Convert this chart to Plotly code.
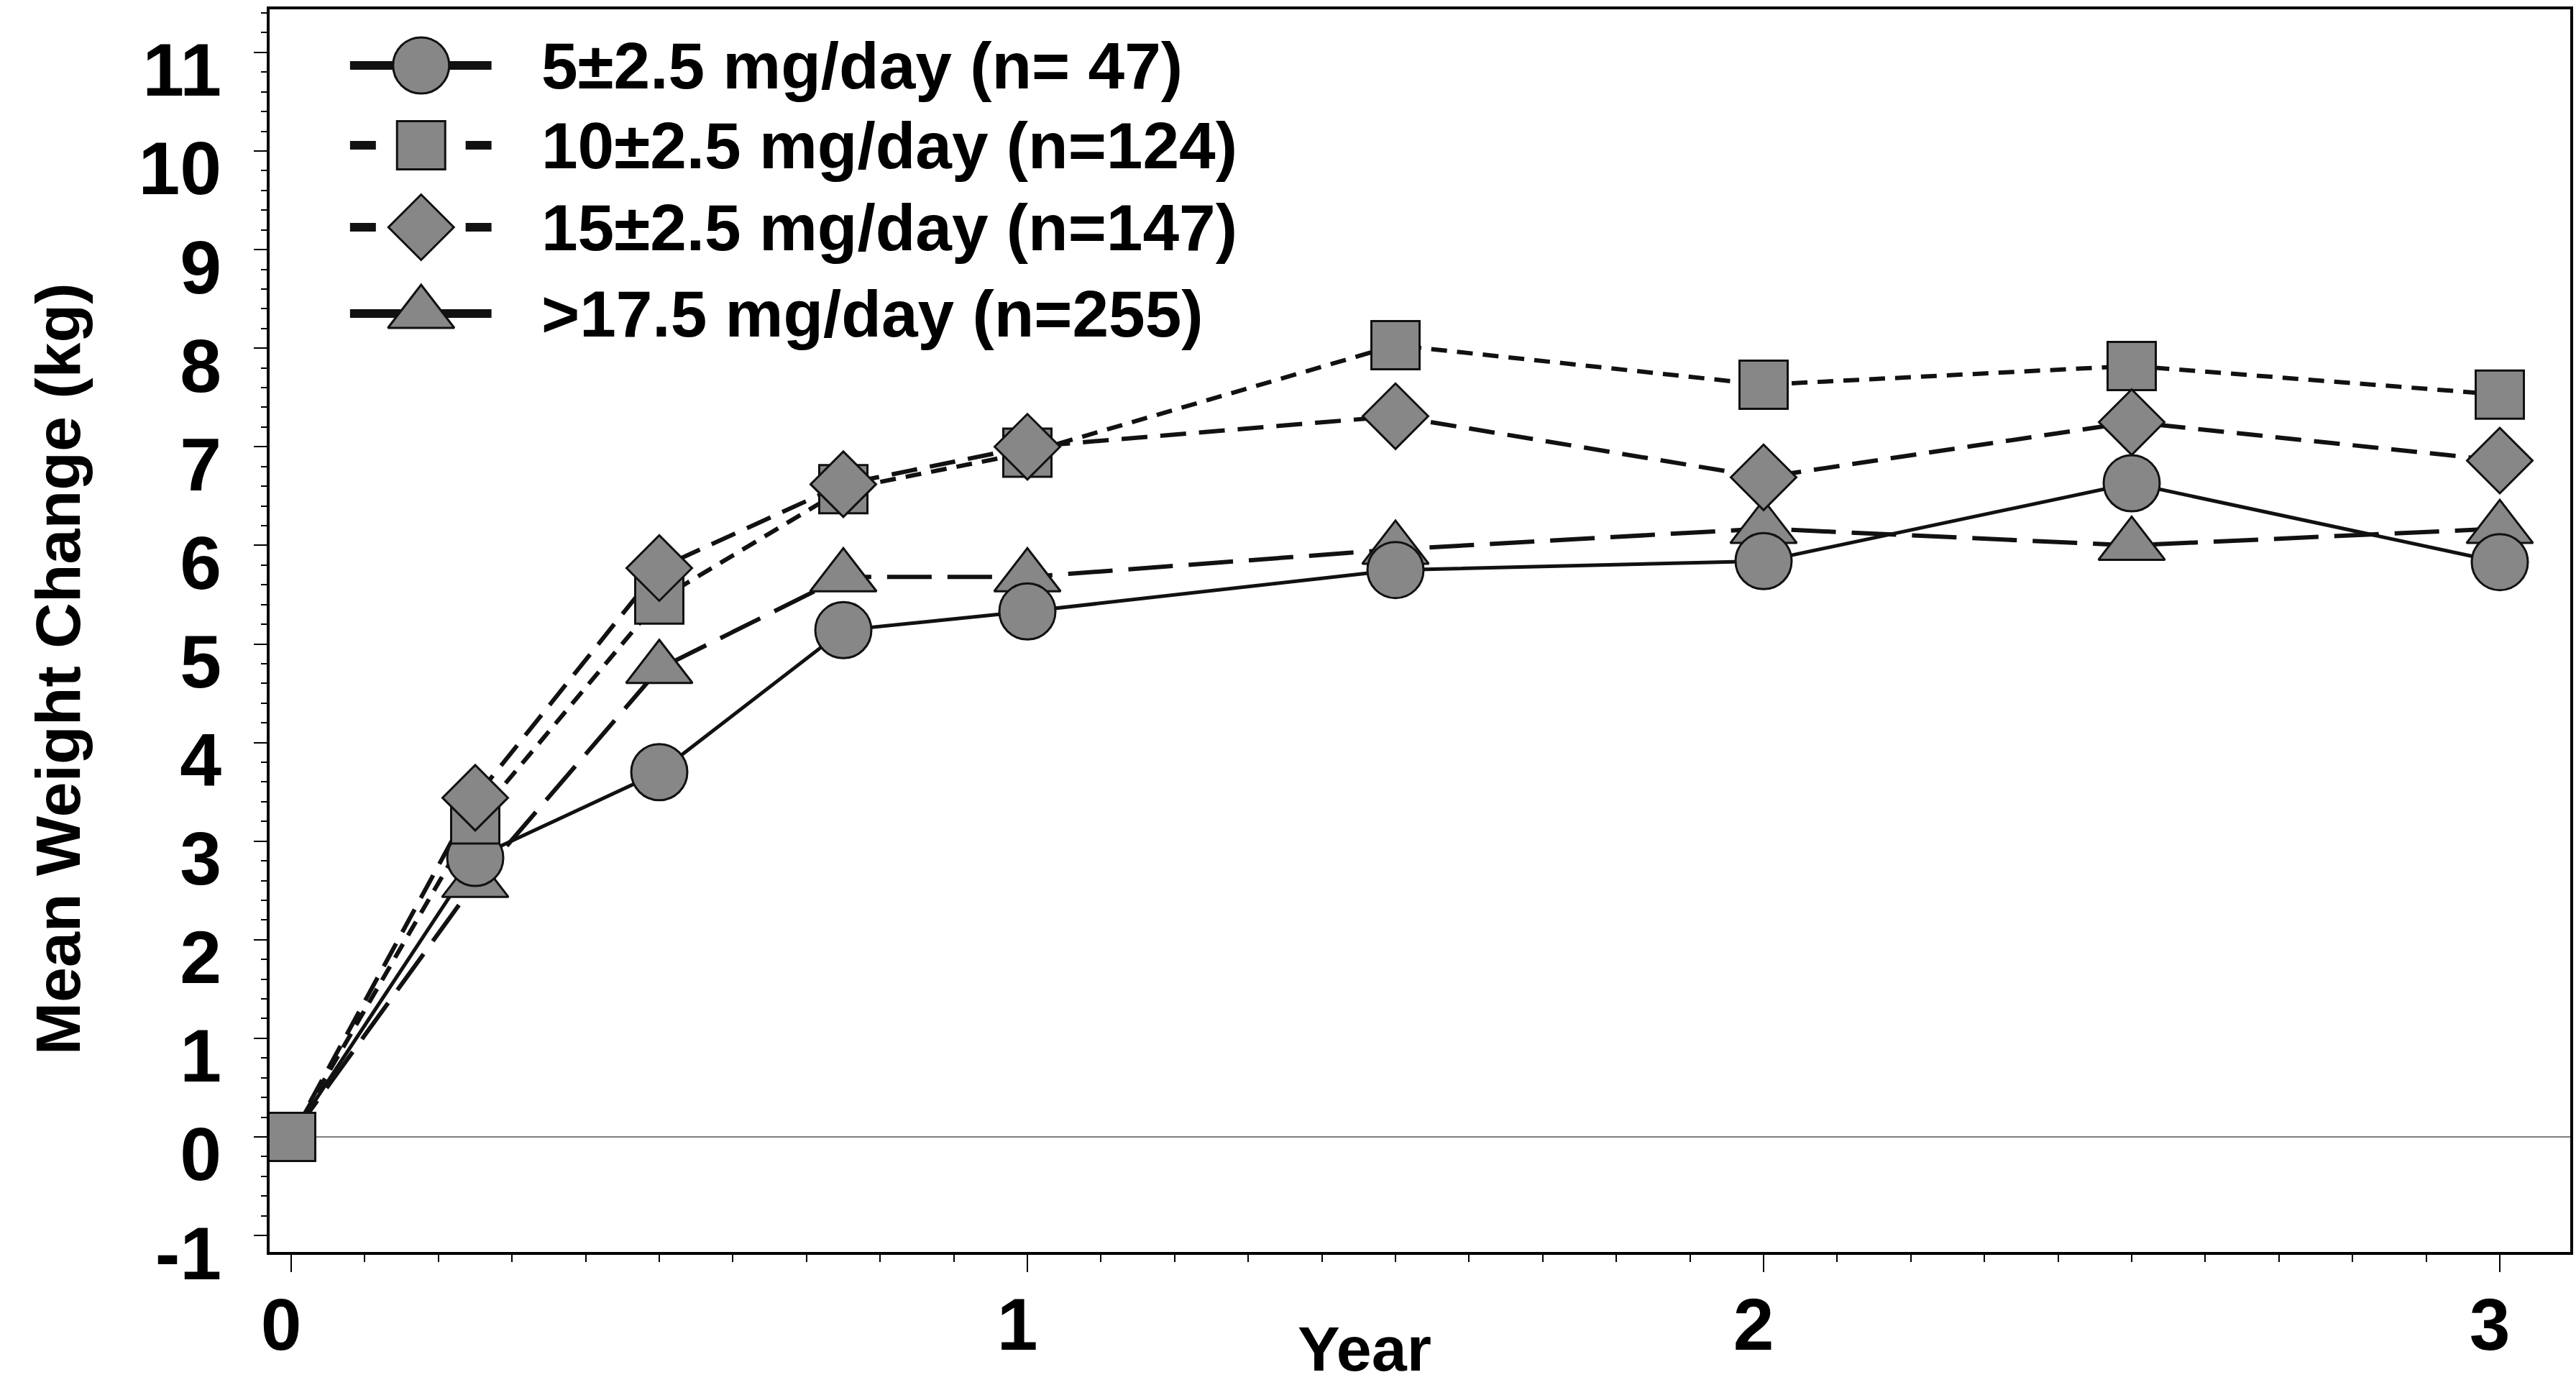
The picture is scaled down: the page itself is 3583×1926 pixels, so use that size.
import plotly.graph_objects as go

# Data (mean weight change in kg by year)
years = [0, 0.25, 0.5, 0.75, 1, 1.5, 2, 2.5, 3]

dose_5 = [0, 2.83, 3.70, 5.14, 5.33, 5.75, 5.84, 6.63, 5.83]
dose_10 = [0, 3.22, 5.45, 6.57, 6.94, 8.03, 7.63, 7.82, 7.53]
dose_15 = [0, 3.44, 5.77, 6.62, 7.00, 7.31, 6.69, 7.25, 6.86]
dose_17 = [0, 2.58, 4.75, 5.68, 5.68, 5.96, 6.17, 6.00, 6.17]

labels = [
    "5±2.5 mg/day (n= 47)",
    "10±2.5 mg/day (n=124)",
    "15±2.5 mg/day (n=147)",
    ">17.5 mg/day (n=255)",
]

y_tickvals = list(range(-1, 12))
y_ticktext = ["-1"] + [str(v) for v in range(0, 12)]
x_tickvals = [0, 1, 2, 3]

# Layout / style constants (pixels)
W, H = 3583, 1926
PLOT_L, PLOT_R, PLOT_T, PLOT_B = 375, 3579, 13, 1741
FONT = "Liberation Sans, Arial, Helvetica, sans-serif"
FILL = "#878787"
INK = "#111111"

styles = [
    dict(symbol="circle", size=78, dash="solid", width=5, first=1, split=False),
    dict(symbol="square", size=67, dash="22px,14px", width=6, first=0, split=True),
    dict(symbol="diamond", size=70, dash="36px,18px", width=6, first=1, split=True),
    dict(symbol="triangle-up", size=80, dash="62px,22px", width=6, first=1, split=False),
]
values = [dose_5, dose_10, dose_15, dose_17]

fig = go.Figure()

# all lines first
for vals, st in zip(values, styles):
    fig.add_trace(go.Scatter(
        x=years, y=vals, mode="lines",
        line=dict(color=INK, width=st["width"], dash=st["dash"]),
        showlegend=False, hoverinfo="skip",
    ))

# markers on top (triangle, circle, square, diamond)
for i in [3, 0, 1, 2]:
    st = styles[i]
    fig.add_trace(go.Scatter(
        x=years[st["first"]:], y=values[i][st["first"]:], mode="markers",
        marker=dict(symbol=st["symbol"], size=st["size"], color=FILL,
                    line=dict(color=INK, width=3)),
        name=labels[i], showlegend=False,
    ))

# hand-drawn legend in pixel coordinates (overlay axes)
LEG_X0, LEG_XM, LEG_X1, LEG_TEXT = 487, 586, 684, 751
LEG_ROWS = [91, 202, 316, 436]
for i, st in enumerate(styles):
    ry = LEG_ROWS[i]
    if st["split"]:
        lx = [LEG_X0, LEG_X0 + 36, None, LEG_X1 - 36, LEG_X1]
        ly = [ry, ry, None, ry, ry]
    else:
        lx = [LEG_X0, LEG_X1]
        ly = [ry, ry]
    fig.add_trace(go.Scatter(
        x=lx, y=ly, mode="lines", xaxis="x2", yaxis="y2",
        line=dict(color=INK, width=12), showlegend=False, hoverinfo="skip",
    ))
    fig.add_trace(go.Scatter(
        x=[LEG_XM], y=[ry], mode="markers", xaxis="x2", yaxis="y2",
        marker=dict(symbol=st["symbol"], size=st["size"], color=FILL,
                    line=dict(color=INK, width=3)),
        showlegend=False, hoverinfo="skip",
    ))
    fig.add_annotation(
        x=LEG_TEXT, y=ry, xref="x2", yref="y2", text=labels[i],
        showarrow=False, xanchor="left", yanchor="middle",
        font=dict(family=FONT, size=91, color="black", weight="bold"),
    )

def paper_x(px):
    return (px - PLOT_L) / (PLOT_R - PLOT_L)

def paper_y(py):
    return (PLOT_B - py) / (PLOT_B - PLOT_T)

fig.add_annotation(
    x=paper_x(80), y=paper_y(930), xref="paper", yref="paper",
    text="Mean Weight Change (kg)", textangle=-90, showarrow=False,
    xanchor="center", yanchor="middle",
    font=dict(family=FONT, size=88, color="black", weight="bold"),
)
fig.add_annotation(
    x=paper_x(1900), y=paper_y(1824), xref="paper", yref="paper",
    text="Year", showarrow=False, xanchor="center", yanchor="top",
    font=dict(family=FONT, size=88, color="black", weight="bold"),
)

fig.update_layout(
    width=W, height=H,
    margin=dict(l=PLOT_L, r=W - PLOT_R, t=PLOT_T, b=H - PLOT_B),
    paper_bgcolor="white", plot_bgcolor="white",
    xaxis=dict(
        range=[-0.0293, 3.0957], tickvals=x_tickvals,
        ticks="outside", ticklen=24, tickwidth=2, tickcolor="black",
        minor=dict(dtick=0.1, tick0=0, ticks="outside", ticklen=10,
                   tickwidth=2, tickcolor="black"),
        showline=True, linewidth=4, linecolor="black", mirror=True,
        showgrid=False, zeroline=False,
        tickfont=dict(family=FONT, size=102, color="black", weight="bold"),
        ticklabelstandoff=-14, ticklabelshift=-14, ticklabeloverflow="allow",
    ),
    yaxis=dict(
        range=[-1.167, 11.437], tickvals=y_tickvals, ticktext=y_ticktext,
        ticks="outside", ticklen=18, tickwidth=2, tickcolor="black",
        minor=dict(dtick=0.2, tick0=0, ticks="outside", ticklen=8,
                   tickwidth=2, tickcolor="black"),
        showline=True, linewidth=4, linecolor="black", mirror=True,
        showgrid=False, zeroline=True, zerolinecolor="#808080", zerolinewidth=2,
        tickfont=dict(family=FONT, size=104, color="black", weight="bold"),
        ticklabelstandoff=24, ticklabelshift=24, ticklabeloverflow="allow",
    ),
    xaxis2=dict(overlaying="x", range=[PLOT_L, PLOT_R], visible=False),
    yaxis2=dict(overlaying="y", range=[PLOT_B, PLOT_T], visible=False),
)

fig.write_html(
    "out.html",
    config={"displayModeBar": False},
    post_script="document.body.style.margin='0';",
)
